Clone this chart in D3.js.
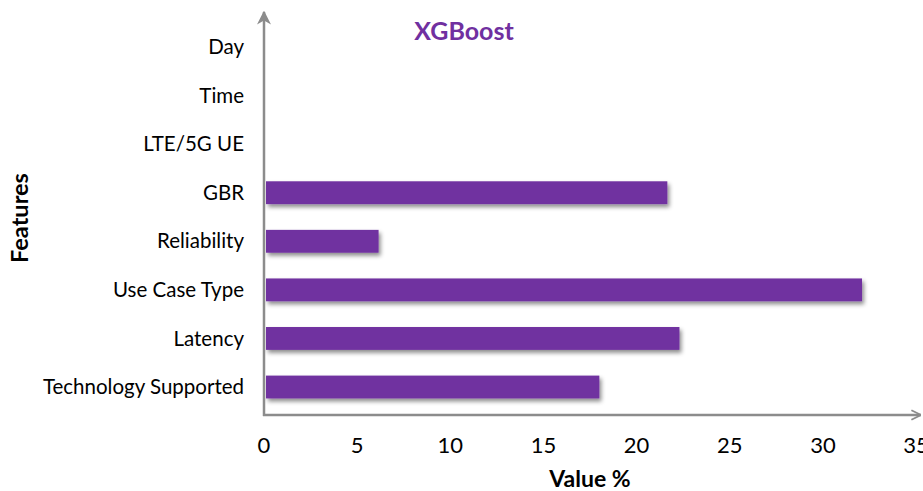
<!DOCTYPE html>
<html lang="en">
  <head>
    <meta charset="UTF-8" />
    <title>XGBoost Feature Importance</title>
    <script src="https://d3js.org/d3.v7.min.js"></script>
    <style>
      body {
        margin: 0;
        background: #fff;
      }
      text {
        font-family: Lato, "Open Sans", sans-serif;
        fill: #000;
      }
    </style>
  </head>
  <body>
    <svg id="chart" width="923" height="491"></svg>

    <script>
      // Features, bottom to top
      const features = [
        "Technology Supported",
        "Latency",
        "Use Case Type",
        "Reliability",
        "GBR",
        "LTE/5G UE",
        "Time",
        "Day",
      ];
      const values = [18.0, 22.3, 32.1, 6.15, 21.65, 0, 0, 0];
      const xTicks = [0, 5, 10, 15, 20, 25, 30, 35];

      const svg = d3.select("#chart");
      const x0 = 264;
      const yAxisY = 415;
      const barColor = "#7030A0";
      const axisColor = "#8c8c8c";

      const x = d3.scaleLinear().domain([0, 35]).range([x0, x0 + 35 * 18.63]);
      const y = d3
        .scaleBand()
        .domain(features)
        .range([411.3, 22.7])
        .paddingInner(0.53)
        .paddingOuter(0.265);

      // Drop shadow for bars
      const defs = svg.append("defs");
      const filter = defs
        .append("filter")
        .attr("id", "shadow")
        .attr("x", "-5%")
        .attr("y", "-30%")
        .attr("width", "115%")
        .attr("height", "180%");
      filter
        .append("feDropShadow")
        .attr("dx", 2)
        .attr("dy", 3)
        .attr("stdDeviation", 2)
        .attr("flood-color", "#000")
        .attr("flood-opacity", 0.45);

      // Arrow markers (drawn pointing along +x, orient auto)
      defs
        .append("marker")
        .attr("id", "arrow-solid")
        .attr("viewBox", "0 0 10 10")
        .attr("refX", 9)
        .attr("refY", 5)
        .attr("markerWidth", 14)
        .attr("markerHeight", 14)
        .attr("markerUnits", "userSpaceOnUse")
        .attr("orient", "auto")
        .append("path")
        .attr("d", "M0,0 L10,5 L0,10 L3,5 Z")
        .attr("fill", axisColor);

      defs
        .append("marker")
        .attr("id", "arrow-open")
        .attr("viewBox", "0 0 10 10")
        .attr("refX", 10)
        .attr("refY", 5)
        .attr("markerWidth", 12)
        .attr("markerHeight", 12)
        .attr("markerUnits", "userSpaceOnUse")
        .attr("orient", "auto")
        .append("path")
        .attr("d", "M2,1 L10,5 L2,9")
        .attr("fill", "none")
        .attr("stroke", axisColor)
        .attr("stroke-width", 1.5);

      // Bars
      svg
        .append("g")
        .selectAll("rect")
        .data(features.map((f, i) => ({ f, v: values[i] })).filter((d) => d.v > 0))
        .join("rect")
        .attr("x", x(0) + 2)
        .attr("y", (d) => y(d.f))
        .attr("width", (d) => x(d.v) - x(0) - 2)
        .attr("height", y.bandwidth())
        .attr("fill", barColor)
        .attr("filter", "url(#shadow)");

      // Axes lines
      svg
        .append("line")
        .attr("x1", x0)
        .attr("x2", x0)
        .attr("y1", yAxisY + 1)
        .attr("y2", 12)
        .attr("stroke", axisColor)
        .attr("stroke-width", 2.5)
        .attr("marker-end", "url(#arrow-solid)");

      svg
        .append("line")
        .attr("x1", x0 - 1)
        .attr("x2", 921)
        .attr("y1", yAxisY)
        .attr("y2", yAxisY)
        .attr("stroke", axisColor)
        .attr("stroke-width", 2.5)
        .attr("marker-end", "url(#arrow-open)");

      // Category labels
      svg
        .append("g")
        .selectAll("text")
        .data(features)
        .join("text")
        .attr("x", 244)
        .attr("y", (d) => y(d) + y.bandwidth() / 2)
        .attr("dy", "0.35em")
        .attr("text-anchor", "end")
        .style("font-size", "20.5px")
        .text((d) => d);

      // X tick labels
      svg
        .append("g")
        .selectAll("text")
        .data(xTicks)
        .join("text")
        .attr("x", (d) => x(d))
        .attr("y", 445)
        .attr("dy", "0.35em")
        .attr("text-anchor", "middle")
        .style("font-size", "22px")
        .text((d) => d);

      // Axis titles
      svg
        .append("text")
        .attr("x", 590)
        .attr("y", 479)
        .attr("dy", "0.35em")
        .attr("text-anchor", "middle")
        .style("font-size", "23px")
        .style("font-weight", "bold")
        .text("Value %");

      svg
        .append("text")
        .attr("transform", "translate(20,218) rotate(-90)")
        .attr("dy", "0.35em")
        .attr("text-anchor", "middle")
        .style("font-size", "23.5px")
        .style("font-weight", "bold")
        .text("Features");

      // Title
      svg
        .append("text")
        .attr("x", 464)
        .attr("y", 31)
        .attr("dy", "0.35em")
        .attr("text-anchor", "middle")
        .style("font-size", "25px")
        .style("font-weight", "bold")
        .style("fill", barColor)
        .text("XGBoost");
    </script>
  </body>
</html>
